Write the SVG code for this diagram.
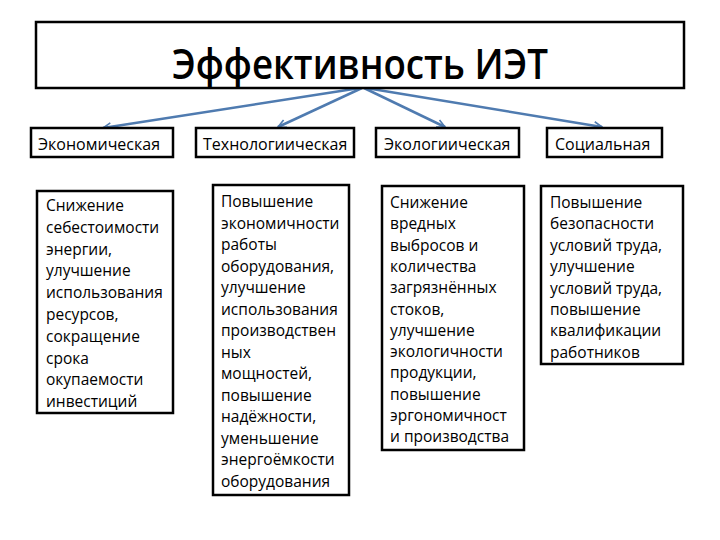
<svg xmlns="http://www.w3.org/2000/svg" width="720" height="540" viewBox="0 0 720 540">
<defs>
<style>
.box{fill:#fff;stroke:#000;stroke-width:2.5}
.t{font-family:"Open Sans","Liberation Sans",sans-serif;font-size:15.5px;fill:#000}
.lb{font-family:"Open Sans","Liberation Sans",sans-serif;font-size:16px;fill:#000}
.title{font-family:"Open Sans","Liberation Sans",sans-serif;font-size:41px;font-weight:600;fill:#000}
.conn{stroke:#4f7bb0;stroke-width:2.5;fill:none}
</style>
<marker id="arr" viewBox="0 0 10 10" refX="9" refY="5" markerWidth="4" markerHeight="4" orient="auto" markerUnits="strokeWidth">
<path d="M1,1 L9,5 L1,9" fill="none" stroke="#4f7bb0" stroke-width="1.6"/>
</marker>
</defs>
<rect width="720" height="540" fill="#fff"/>
<g id="connectors">
<line class="conn" x1="360" y1="88" x2="103" y2="128" marker-end="url(#arr)"/>
<line class="conn" x1="362" y1="88" x2="278" y2="127" marker-end="url(#arr)"/>
<line class="conn" x1="364" y1="88" x2="445" y2="127" marker-end="url(#arr)"/>
<line class="conn" x1="366" y1="88" x2="602" y2="127" marker-end="url(#arr)"/>
</g>
<g id="title">
<rect class="box" x="36" y="22" width="648" height="66"/>
<text class="title" x="360" y="79" text-anchor="middle" textLength="376" lengthAdjust="spacingAndGlyphs">Эффективность ИЭТ</text>
</g>
<g id="lbl-econ">
<rect class="box" x="31" y="128" width="142" height="29"/>
<text class="lb" x="38" y="150">Экономическая</text>
</g>
<g id="lbl-tech">
<rect class="box" x="196" y="128" width="158" height="29"/>
<text class="lb" x="203" y="150">Технологиическая</text>
</g>
<g id="lbl-eco">
<rect class="box" x="376" y="128" width="143" height="29"/>
<text class="lb" x="384" y="150">Экологиическая</text>
</g>
<g id="lbl-soc">
<rect class="box" x="547" y="128" width="115" height="29"/>
<text class="lb" x="555" y="150">Социальная</text>
</g>
<g id="box-econ">
<rect class="box" x="37" y="191" width="136" height="222"/>
<text class="t" x="46" y="211">
<tspan x="46">Снижение</tspan>
<tspan x="46" dy="21.8">себестоимости</tspan>
<tspan x="46" dy="21.8">энергии,</tspan>
<tspan x="46" dy="21.8">улучшение</tspan>
<tspan x="46" dy="21.8">использования</tspan>
<tspan x="46" dy="21.8">ресурсов,</tspan>
<tspan x="46" dy="21.8">сокращение</tspan>
<tspan x="46" dy="21.8">срока</tspan>
<tspan x="46" dy="21.8">окупаемости</tspan>
<tspan x="46" dy="21.8">инвестиций</tspan>
</text>
</g>
<g id="box-tech">
<rect class="box" x="213" y="185" width="136" height="310"/>
<text class="t" x="221" y="207">
<tspan x="221">Повышение</tspan>
<tspan x="221" dy="21.5">экономичности</tspan>
<tspan x="221" dy="21.5">работы</tspan>
<tspan x="221" dy="21.5">оборудования,</tspan>
<tspan x="221" dy="21.5">улучшение</tspan>
<tspan x="221" dy="21.5">использования</tspan>
<tspan x="221" dy="21.5">производствен</tspan>
<tspan x="221" dy="21.5">ных</tspan>
<tspan x="221" dy="21.5">мощностей,</tspan>
<tspan x="221" dy="21.5">повышение</tspan>
<tspan x="221" dy="21.5">надёжности,</tspan>
<tspan x="221" dy="21.5">уменьшение</tspan>
<tspan x="221" dy="21.5">энергоёмкости</tspan>
<tspan x="221" dy="21.5">оборудования</tspan>
</text>
</g>
<g id="box-eco">
<rect class="box" x="382" y="186" width="142" height="264"/>
<text class="t" x="390" y="208">
<tspan x="390">Снижение</tspan>
<tspan x="390" dy="21.3">вредных</tspan>
<tspan x="390" dy="21.3">выбросов и</tspan>
<tspan x="390" dy="21.3">количества</tspan>
<tspan x="390" dy="21.3">загрязнённых</tspan>
<tspan x="390" dy="21.3">стоков,</tspan>
<tspan x="390" dy="21.3">улучшение</tspan>
<tspan x="390" dy="21.3">экологичности</tspan>
<tspan x="390" dy="21.3">продукции,</tspan>
<tspan x="390" dy="21.3">повышение</tspan>
<tspan x="390" dy="21.3">эргономичност</tspan>
<tspan x="390" dy="21.3">и производства</tspan>
</text>
</g>
<g id="box-soc">
<rect class="box" x="541" y="186" width="142" height="178"/>
<text class="t" x="550" y="208">
<tspan x="550">Повышение</tspan>
<tspan x="550" dy="21.4">безопасности</tspan>
<tspan x="550" dy="21.4">условий труда,</tspan>
<tspan x="550" dy="21.4">улучшение</tspan>
<tspan x="550" dy="21.4">условий труда,</tspan>
<tspan x="550" dy="21.4">повышение</tspan>
<tspan x="550" dy="21.4">квалификации</tspan>
<tspan x="550" dy="21.4">работников</tspan>
</text>
</g>
</svg>
